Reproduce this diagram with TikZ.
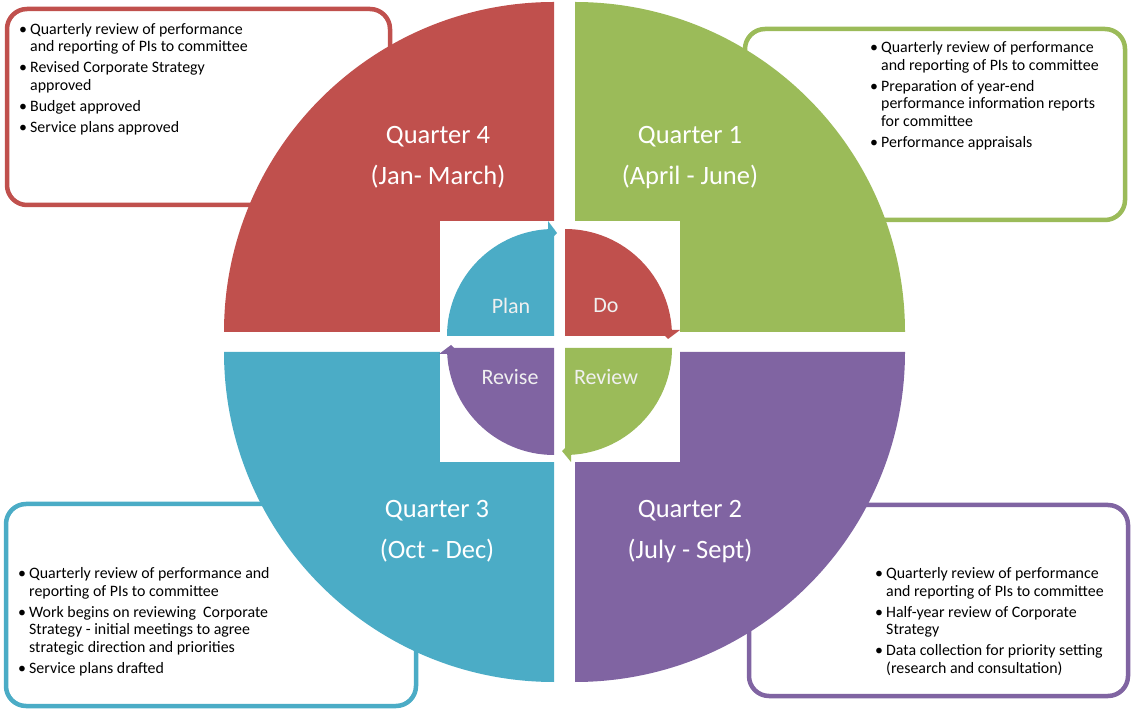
\documentclass[tikz,border=0pt]{standalone}
\usepackage{fontspec}
\setmainfont{Carlito}
\definecolor{qred}{HTML}{C0504D}
\definecolor{qgreen}{HTML}{9BBB59}
\definecolor{qblue}{HTML}{4BACC6}
\definecolor{qpurple}{HTML}{8064A2}
\newcommand\bul{\makebox[11pt][l]{\textbullet}}
\newcommand\ind{\hspace*{11pt}}
\begin{document}
\begin{tikzpicture}[x=1pt,y=1pt,
  note/.style={draw=#1, line width=4.5pt, rounded corners=20pt, fill=white, inner sep=0pt},
  notetext/.style={anchor=north west, inner sep=0pt, align=left,
    font=\fontsize{15.9}{17.5}\selectfont, text=black},
  qlabel/.style={text=white, inner sep=0pt, font=\fontsize{26.5}{32}\selectfont},
  clabel/.style={text=white!94!black, inner sep=0pt, font=\fontsize{22}{26}\selectfont},
]
\useasboundingbox (0,0) rectangle (1132,712);

% ---- activity boxes (behind the quarters) ----
\node[note=qred,    minimum width=383pt, minimum height=196pt] (boxq4) at (198.5,605) {};
\node[note=qgreen,  minimum width=380pt, minimum height=191pt] (boxq1) at (935,587.5) {};
\node[note=qblue,   minimum width=410pt, minimum height=202pt] (boxq3) at (211,107) {};
\node[note=qpurple, minimum width=379pt, minimum height=191pt] (boxq2) at (938.5,111.5) {};

\node[notetext] (txtq4) at (19,689) {%
  \bul Quarterly review of performance\\ \ind and reporting of PIs to committee\\[3.5pt]
  \bul Revised Corporate Strategy\\ \ind approved\\[3.5pt]
  \bul Budget approved\\[3.5pt]
  \bul Service plans approved};
\node[notetext] (txtq1) at (870,670.5) {%
  \bul Quarterly review of performance\\ \ind and reporting of PIs to committee\\[3.5pt]
  \bul Preparation of year-end\\ \ind performance information reports\\ \ind for committee\\[3.5pt]
  \bul Performance appraisals};
\node[notetext] (txtq3) at (18,144.5) {%
  \bul Quarterly review of performance and\\ \ind reporting of PIs to committee\\[3.5pt]
  \bul Work begins on reviewing\ \ Corporate\\ \ind Strategy - initial meetings to agree\\ \ind strategic direction and priorities\\[3.5pt]
  \bul Service plans drafted};
\node[notetext] (txtq2) at (875,144.5) {%
  \bul Quarterly review of performance\\ \ind and reporting of PIs to committee\\[3.5pt]
  \bul Half-year review of Corporate\\ \ind Strategy\\[3.5pt]
  \bul Data collection for priority setting\\ \ind (research and consultation)};

% ---- the four quarters of the year ----
\fill[qred]    (554,380) -- (224,380) arc[start angle=180, end angle=90,  radius=330] -- cycle;
\fill[qgreen]  (575,380) -- (575,710) arc[start angle=90,  end angle=0,   radius=330] -- cycle;
\fill[qpurple] (575,360) -- (905,360) arc[start angle=0,   end angle=-90, radius=330] -- cycle;
\fill[qblue]   (554,360) -- (554,30)  arc[start angle=270, end angle=180, radius=330] -- cycle;

\node[qlabel] (q4a) at (438,575.5) {Quarter 4};
\node[qlabel] (q4b) at (438,535) {(Jan- March)};
\node[qlabel] (q1a) at (690,575.5) {Quarter 1};
\node[qlabel] (q1b) at (690,535) {(April - June)};
\node[qlabel] (q3a) at (437,201) {Quarter 3};
\node[qlabel] (q3b) at (437,161) {(Oct - Dec)};
\node[qlabel] (q2a) at (690,201) {Quarter 2};
\node[qlabel] (q2b) at (690,161) {(July - Sept)};

% ---- central plan-do-review-revise cycle ----
\fill[white] (440,250) rectangle (680,491);

\fill[qblue]   (554,376) -- (447,376) arc[start angle=180, end angle=90,  radius=107] -- cycle;
\fill[qblue]   (548,491) -- (557,479) -- (548,470) -- cycle;
\fill[qred]    (565,376) -- (565,483) arc[start angle=90,  end angle=0,   radius=107] -- cycle;
\fill[qred]    (680,382) -- (668,373) -- (659,382) -- cycle;
\fill[qgreen]  (565,364) -- (672,364) arc[start angle=0,   end angle=-90, radius=107] -- cycle;
\fill[qgreen]  (571,250) -- (562,261) -- (571,270) -- cycle;
\fill[qpurple] (554,364) -- (554,257) arc[start angle=270, end angle=180, radius=107] -- cycle;
\fill[qpurple] (439,358) -- (451,367) -- (460,358) -- cycle;

\node[clabel] (plan)   at (511,406) {Plan};
\node[clabel] (do)     at (606,406) {Do};
\node[clabel] (revise) at (510,334.5) {Revise};
\node[clabel] (review) at (606,334.5) {Review};
\end{tikzpicture}
\end{document}
